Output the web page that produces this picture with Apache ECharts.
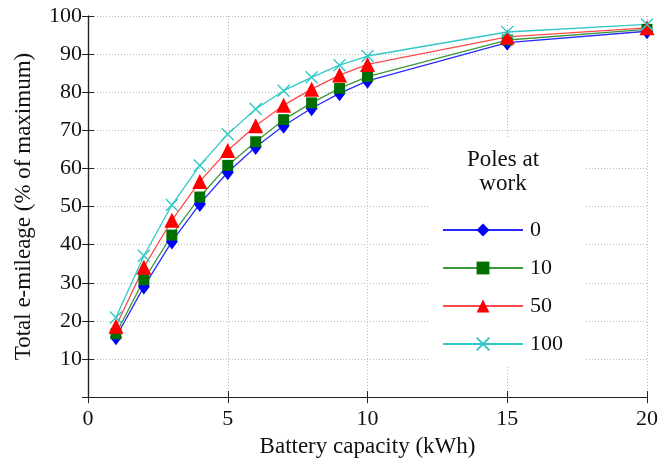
<!DOCTYPE html>
<html><head><meta charset="utf-8">
<script src="https://cdn.jsdelivr.net/npm/echarts@6/dist/echarts.min.js"></script>
<style>html,body{margin:0;padding:0;background:#fff}#c{width:670px;height:463px}</style>
</head><body><div id="c"></div>
<script>
const capacity = [1,2,3,4,5,6,7,8,9,10,15,20];
const poles0   = [15.7,29.0,40.8,50.7,59.0,65.6,71.2,75.8,79.7,83.0,93.0,96.0];
const poles10  = [16.6,30.8,42.5,52.5,60.8,67.0,72.8,77.2,81.0,84.1,93.7,96.5];
const poles50  = [18.6,34.1,46.4,56.6,64.7,71.2,76.6,80.8,84.5,87.3,94.5,96.9];
const poles100 = [20.9,37.1,50.4,60.8,69.0,75.6,80.4,83.9,87.1,89.5,95.8,97.8];
const xTicks = [0,5,10,15,20];
const yTicks = [10,20,30,40,50,60,70,80,90,100];

const font = 'Liberation Serif';
const chart = echarts.init(document.getElementById('c'));
const pair = a => capacity.map((x,i)=>[x,a[i]]);
const crossPath = 'path://M0,0L10,10M10,0L0,10';
function mk(name, data, color, lineColor, symbol, size, extra){
  return Object.assign({
    name, type:'line', data:pair(data), symbol, symbolSize:size,
    lineStyle:{color:lineColor, width:1.3},
    itemStyle:{color:color},
    z:3
  }, extra||{});
}
const axisBase = {
  type:'value', min:0, axisLine:{show:true, lineStyle:{color:'#222', width:1.2}},
  axisTick:{show:true, inside:true, length:6, lineStyle:{color:'#222'}},
};
chart.setOption({
  animation:false,
  title:{text:'Poles at\nwork', left:503, top:148, textAlign:'center', padding:0,
    textStyle:{fontFamily:font, fontSize:23, fontWeight:'normal', color:'#111', lineHeight:24}},
  graphic:[{type:'rect', shape:{x:428, y:137, width:157, height:230}, style:{fill:'#fff'}, z:1, silent:true}],
  legend:{orient:'vertical', left:442, top:219, padding:0, itemWidth:80, itemHeight:16, itemGap:16,
    textStyle:{fontFamily:font, fontSize:22, color:'#111', padding:[0,0,0,2]},
    data:['0','10','50','100']},
  grid:{left:88, right:23, top:16, bottom:63},
  xAxis:[
    Object.assign({}, axisBase, {max:20, interval:5, position:'bottom',
      name:'Battery capacity (kWh)', nameLocation:'middle', nameGap:31,
      nameTextStyle:{fontFamily:font, fontSize:23, color:'#111'},
      axisLabel:{fontFamily:font, fontSize:22, color:'#111', margin:11,
        formatter:v=> xTicks.includes(v)? String(v) : ''},
      splitLine:{show:true, lineStyle:{color:'#bbb', type:[1,2], width:1}}}),
    Object.assign({}, axisBase, {max:20, interval:5, position:'top',
      axisLabel:{show:false}, splitLine:{show:false}})
  ],
  yAxis:[
    Object.assign({}, axisBase, {max:100, interval:10, position:'left',
      name:'Total e-mileage (% of maximum)', nameLocation:'middle', nameGap:53,
      nameTextStyle:{fontFamily:font, fontSize:23, color:'#111'},
      axisLabel:{fontFamily:font, fontSize:22, color:'#111', margin:6,
        formatter:v=> yTicks.includes(v)? String(v) : ''},
      splitLine:{show:true, lineStyle:{color:'#bbb', type:[1,2], width:1}}}),
    Object.assign({}, axisBase, {max:100, interval:10, position:'right',
      axisLabel:{show:false}, splitLine:{show:false}})
  ],
  series:[
    mk('0', poles0, '#0000ff', '#2a2aff', 'diamond', [12,16]),
    mk('10', poles10, '#006e00', '#3a9a3a', 'rect', 11),
    mk('50', poles50, '#ff0000', '#ff4a4a', 'triangle', 15),
    mk('100', poles100, '#30c8c8', '#30c8c8', crossPath, 12,
      {itemStyle:{color:'#30c8c8', borderColor:'#30c8c8', borderWidth:1.4}})
  ]
});
</script></body></html>
